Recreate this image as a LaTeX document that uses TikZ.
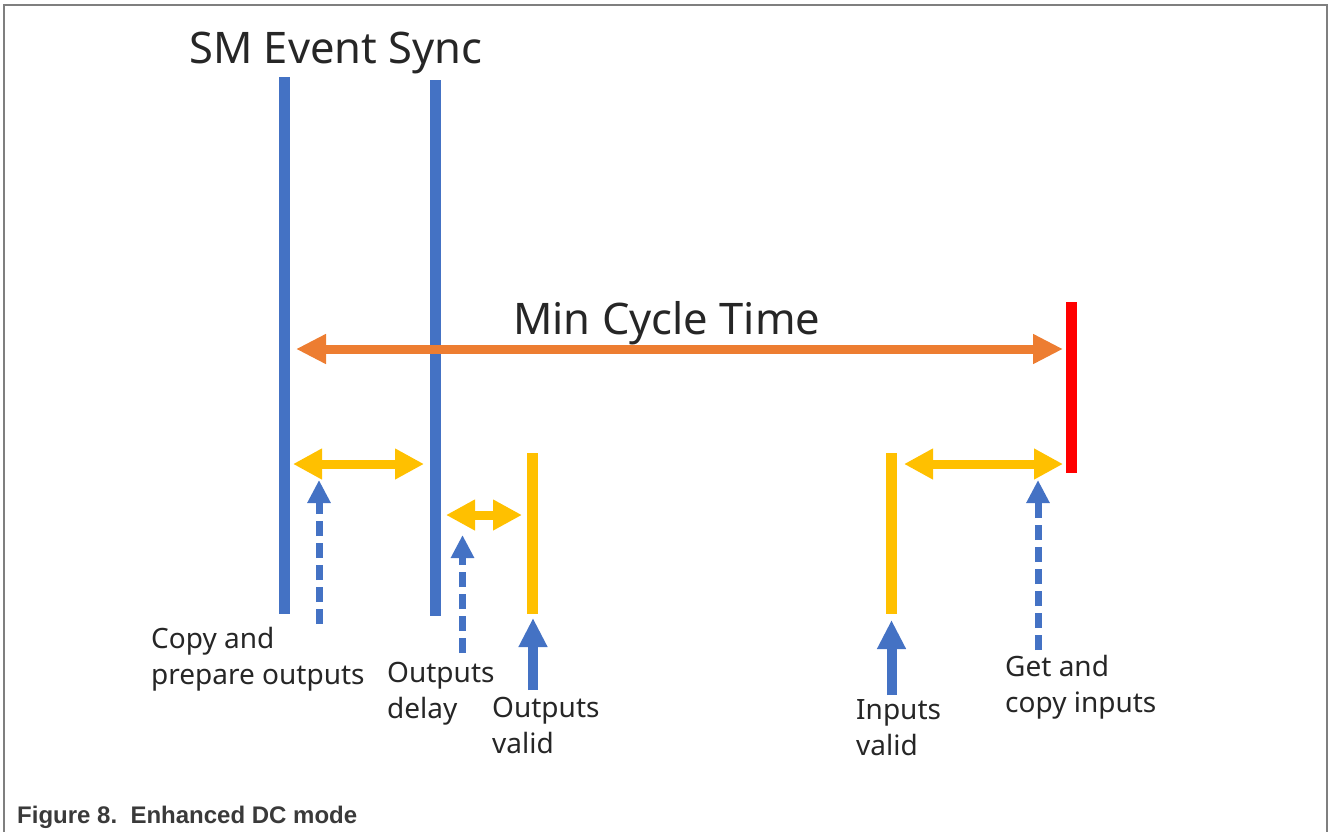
\documentclass[tikz,border=0pt]{standalone}
\usepackage{fontspec}
\setmainfont{Noto Sans}
\newfontfamily\capfont{Liberation Sans}
\usetikzlibrary{arrows.meta}
\definecolor{barblue}{HTML}{4472C4}
\definecolor{amber}{HTML}{FFC000}
\definecolor{cycleorange}{HTML}{ED7D31}
\definecolor{limitred}{HTML}{FF0000}
\definecolor{framegray}{HTML}{7F7F7F}
\definecolor{inkgray}{HTML}{262626}
\definecolor{captiongray}{HTML}{3A3A3A}

\begin{document}
\begin{tikzpicture}[x=1pt,y=-1pt,
  syncbar/.style={barblue, line width=11pt},
  validbar/.style={amber, line width=11pt},
  limitbar/.style={limitred, line width=11pt},
  cyclespan/.style={cycleorange, line width=9pt,
    {Triangle[length=30pt,width=28pt]}-{Triangle[length=30pt,width=28pt]}},
  phasespan/.style={amber, line width=9pt,
    {Triangle[length=29pt,width=29pt]}-{Triangle[length=29pt,width=29pt]}},
  dashpointer/.style={barblue, line width=7pt, dash pattern=on 15pt off 7pt,
    -{Triangle[length=23pt,width=22pt]}},
  solidpointer/.style={barblue, line width=10pt,
    -{Triangle[length=29pt,width=27pt]}},
  bigtitle/.style={inkgray, inner sep=0pt, anchor=base west,
    font=\fontsize{43.5}{50}\selectfont},
  label/.style={inkgray, inner sep=0pt, anchor=base west, align=left,
    font=\fontsize{28}{36}\selectfont},
]
\useasboundingbox (0,0) rectangle (1328,831);

% frame
\draw[framegray, line width=1.5pt] (4,835) -- (4,5) -- (1327,5) -- (1327,835);

% vertical markers
\coordinate (s1top) at (284,77);   \coordinate (s1bot) at (284,614);
\coordinate (s2top) at (435,80);   \coordinate (s2bot) at (435,616);
\coordinate (ovtop) at (532,453);  \coordinate (ovbot) at (532,614);
\coordinate (ivtop) at (891,453);  \coordinate (ivbot) at (891,614);
\coordinate (rtop) at (1071.5,302); \coordinate (rbot) at (1071.5,473);
\draw[syncbar] (s1top) -- (s1bot);
\draw[syncbar] (s2top) -- (s2bot);
\draw[validbar] (ovtop) -- (ovbot);
\draw[validbar] (ivtop) -- (ivbot);
\draw[limitbar] (rtop) -- (rbot);

% spans
\coordinate (cycL) at (296,349);  \coordinate (cycR) at (1063,349);
\coordinate (cpL) at (293,464);   \coordinate (cpR) at (424,464);
\coordinate (odL) at (446,515);   \coordinate (odR) at (522,515);
\coordinate (gcL) at (904,464);   \coordinate (gcR) at (1063,464);
\draw[cyclespan] (cycL) -- (cycR);
\draw[phasespan] (cpL) -- (cpR);
\draw[phasespan] (odL) -- (odR);
\draw[phasespan] (gcL) -- (gcR);

% pointers
\coordinate (p1a) at (319,624);   \coordinate (p1b) at (319,480);
\coordinate (p2a) at (462.5,653); \coordinate (p2b) at (462.5,535);
\coordinate (p3a) at (533,690);   \coordinate (p3b) at (533,618);
\coordinate (p4a) at (891.5,695); \coordinate (p4b) at (891.5,620);
\coordinate (p5a) at (1038,650);  \coordinate (p5b) at (1038,480);
\draw[dashpointer] (p1a) -- (p1b);
\draw[dashpointer] (p2a) -- (p2b);
\draw[solidpointer] (p3a) -- (p3b);
\draw[solidpointer] (p4a) -- (p4b);
\draw[dashpointer] (p5a) -- (p5b);

% texts (multi-line labels are placed by the baseline of their last line)
\node[bigtitle] (sync) at (189,63) {SM Event Sync};
\node[bigtitle] (mincycle) at (513,334) {Min Cycle Time};
\node[label] (copyout) at (151,684) {Copy and\\prepare outputs};
\node[label] (outdelay) at (387,718) {Outputs\\delay};
\node[label] (outvalid) at (492,753) {Outputs\\valid};
\node[label] (invalid) at (856,755) {Inputs\\valid};
\node[label] (getin) at (1005,712) {Get and\\copy inputs};

\node[captiongray, inner sep=0pt, anchor=base west,
  font=\capfont\bfseries\fontsize{24}{28}\selectfont] (caption) at (17,823)
  {Figure 8.\ \ Enhanced DC mode};
\end{tikzpicture}
\end{document}
